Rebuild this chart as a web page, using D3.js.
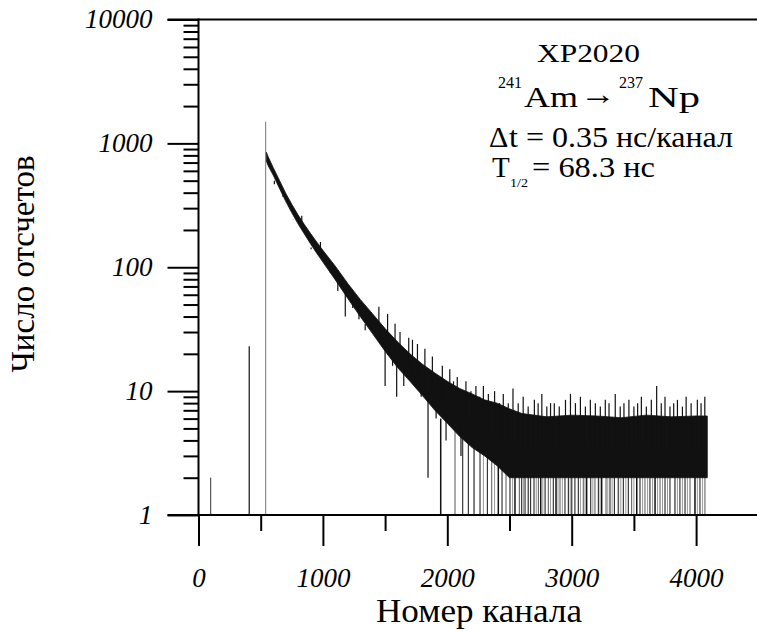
<!DOCTYPE html>
<html>
<head>
<meta charset="utf-8">
<script src="https://cdn.jsdelivr.net/npm/d3@7"></script>
<style>
  body { margin: 0; background: #fff; }
  svg { display: block; }
</style>
</head>
<body>
<div id="chart"></div>
<script>
const SERIF = "'Liberation Serif', 'Times New Roman', Times, serif";

// Decay band: channel, lower and upper edge of the dark band (counts)
const bandCh = [545, 560, 600, 650, 700, 750, 800, 850, 900, 950, 1000, 1100, 1200, 1300, 1400,
  1500, 1600, 1700, 1800, 1900, 2000, 2100, 2200, 2300, 2400, 2500, 2600, 2800, 3000, 3200,
  3400, 3600, 3800, 4000, 4090];
const bandLo = [720, 660, 555, 435, 342, 275, 224, 186, 155, 130, 110, 79, 56, 40, 29,
  21, 15.5, 12, 9.2, 7, 5.5, 4.3, 3.5, 3, 2.5, 2, 2, 2, 2, 2,
  2, 2, 2, 2, 2];
const bandHi = [850, 780, 640, 505, 398, 322, 265, 222, 188, 160, 137, 102, 74, 55, 42,
  32, 25, 20, 16.5, 14, 12, 10.5, 9.5, 8.5, 8, 7.2, 6.6, 6.2, 6.4, 6.3,
  6.1, 6.4, 6.2, 6.3, 6.3];

// single channels standing out of the band (channel, count)
const spikeCh = [610, 680, 760, 830, 905, 980, 1060, 1120, 1180, 1240, 1290, 1340, 1390, 1450,
  1500, 1520, 1560, 1580, 1593, 1620, 1650, 1690, 1720, 1760, 1790, 1820, 1845, 1880, 1910,
  1960, 1990, 2020, 2050, 2080, 2110, 2150, 2190, 2230, 2260, 2290, 2330, 2380, 2420, 2450,
  2490, 2528, 2570, 2610, 2650, 2700, 2730, 2760, 2800, 2830, 2860, 2900, 2950, 2990, 3030,
  3070, 3110, 3150, 3190, 3230, 3270, 3300, 3350, 3390, 3420, 3460, 3500, 3530, 3560, 3600,
  3640, 3683, 3720, 3750, 3790, 3820, 3850, 3890, 3920, 3960, 4010, 4040, 4070];
const spikeVal = [500, 420, 245, 260, 140, 160, 92, 95, 40, 64, 38, 31, 43, 48,
  11, 42, 16, 35, 9, 30, 11, 27, 26, 24, 9, 22, 2, 19, 6,
  16, 4, 15, 12, 13, 3, 12, 10, 11, 9, 11, 9.5, 10, 8, 9.5,
  8, 10.5, 8, 9, 7.5, 8.5, 8, 9.5, 7.5, 8, 8, 7.5, 8.5, 9.5, 8,
  9, 7.5, 8.5, 8, 7.5, 8.5, 8, 9.5, 7.5, 8, 8.5, 7.5, 8, 9, 7.5,
  8.5, 11, 8, 9, 7.5, 8, 8.5, 7.5, 9, 8, 8.5, 8, 9];

// channels where the trace drops to the bottom of the plot
const dropCh = [1947, 2062, 2124, 2169, 2215, 2263, 2322, 2357, 2410, 2440, 2472, 2504, 2544,
  2579, 2598, 2625, 2651, 2670, 2697, 2732, 2751, 2786, 2812, 2852, 2874, 2906, 2946, 2973,
  3000, 3026, 3053, 3093, 3120, 3153, 3187, 3214, 3241, 3276, 3308, 3343, 3375, 3415, 3455,
  3482, 3523, 3549, 3589, 3629, 3670, 3710, 3750, 3790, 3830, 3870, 3911, 3951, 3991, 4031,
  4071];
// fainter grey lines reaching the bottom
const faintCh = [2290, 2380, 2525, 2612, 2715, 2768, 2830, 2890, 2925, 2988, 3070, 3107, 3170,
  3228, 3290, 3325, 3395, 3435, 3500, 3570, 3610, 3650, 3690, 3730, 3770, 3850, 3890, 3930,
  4010, 4052];

// isolated lines before the decay
const peakCh = [98, 408, 540];
const peakVal = [2, 23, 1494];

const yMajor = [1, 10, 100, 1000, 10000];
const xMajor = [0, 1000, 2000, 3000, 4000];
const xMinor = [500, 1500, 2500, 3500];

const W = 757, H = 631;
const plotL = 198.5, plotR = 758.3, plotT = 19.5, plotB = 515;

const svg = d3.select("#chart").append("svg")
  .attr("width", W).attr("height", H);

const x = d3.scaleLinear().domain([0, 4500]).range([plotL, plotR]);
const y = d3.scaleLog().domain([1, 10000]).range([plotB, plotT]);

function bandIndex(c) {
  return Math.min(d3.bisectLeft(bandCh, c), bandCh.length - 1);
}

// faint drops first, so the band sits on top
svg.append("g").selectAll("line")
  .data(faintCh)
  .join("line")
  .attr("x1", d => x(d)).attr("x2", d => x(d))
  .attr("y1", y(1)).attr("y2", y(5))
  .attr("stroke", "#999")
  .attr("stroke-width", 1);

svg.append("g").selectAll("line")
  .data(dropCh)
  .join("line")
  .attr("x1", d => x(d)).attr("x2", d => x(d))
  .attr("y1", y(1)).attr("y2", y(6))
  .attr("stroke", (d, i) => i % 3 === 1 ? "#555" : "#111")
  .attr("stroke-width", (d, i) => i % 4 === 0 ? 1.5 : 1);

// band
const band = bandCh.map((c, i) => ({ c: c, lo: bandLo[i], hi: bandHi[i] }));
svg.append("path")
  .datum(band)
  .attr("fill", "#111")
  .attr("stroke", "#111")
  .attr("stroke-width", 0.8)
  .attr("d", d3.area().x(d => x(d.c)).y0(d => y(d.lo)).y1(d => y(d.hi)));

// spikes, drawn from the middle of the band
svg.append("g").selectAll("line")
  .data(spikeCh.map((c, i) => ({ c: c, v: spikeVal[i] })))
  .join("line")
  .attr("x1", d => x(d.c)).attr("x2", d => x(d.c))
  .attr("y1", d => y(d.v))
  .attr("y2", d => {
    const j = bandIndex(d.c);
    return y(Math.sqrt(bandLo[j] * bandHi[j]));
  })
  .attr("stroke", "#111")
  .attr("stroke-width", 1.2);

// isolated peaks
svg.append("g").selectAll("line")
  .data(peakCh.map((c, i) => ({ c: c, v: peakVal[i] })))
  .join("line")
  .attr("x1", d => x(d.c)).attr("x2", d => x(d.c))
  .attr("y1", y(1)).attr("y2", d => y(d.v))
  .attr("stroke", (d, i) => i === 2 ? "#777" : "#333")
  .attr("stroke-width", (d, i) => i === 1 ? 1.4 : 1);

// y axis: major and minor ticks
const yMinor = [];
[1, 10, 100, 1000].forEach(dec => { for (let k = 2; k <= 9; k++) yMinor.push(dec * k); });

const yMinG = svg.append("g").attr("transform", `translate(${plotL},0)`)
  .call(d3.axisLeft(y).tickValues(yMinor).tickSize(15).tickFormat(""));
yMinG.select(".domain").remove();
const yMajG = svg.append("g").attr("transform", `translate(${plotL},0)`)
  .call(d3.axisLeft(y).tickValues(yMajor).tickSize(31).tickPadding(15).tickFormat(d3.format("d")));
yMajG.select(".domain").remove();
yMajG.selectAll("text")
  .style("font-family", SERIF)
  .style("font-size", "27px")
  .style("font-style", "italic")
  .attr("fill", "#000")
  .attr("dy", "0.3em");

// x axis
const xMinG = svg.append("g").attr("transform", `translate(0,${plotB})`)
  .call(d3.axisBottom(x).tickValues(xMinor).tickSize(16).tickFormat(""));
xMinG.select(".domain").remove();
const xMajG = svg.append("g").attr("transform", `translate(0,${plotB})`)
  .call(d3.axisBottom(x).tickValues(xMajor).tickSize(31).tickPadding(22).tickFormat(d3.format("d")));
xMajG.select(".domain").remove();
xMajG.selectAll("text")
  .style("font-family", SERIF)
  .style("font-size", "27px")
  .style("font-style", "italic")
  .attr("fill", "#000");
svg.selectAll("g.tick line").attr("stroke", "#000").attr("stroke-width", 2);

// frame lines
svg.append("line").attr("x1", plotL).attr("x2", plotL).attr("y1", plotT - 1).attr("y2", plotB + 1)
  .attr("stroke", "#000").attr("stroke-width", 2);
svg.append("line").attr("x1", plotL - 31).attr("x2", W).attr("y1", plotT).attr("y2", plotT)
  .attr("stroke", "#000").attr("stroke-width", 2);
svg.append("line").attr("x1", plotL - 31).attr("x2", W).attr("y1", plotB).attr("y2", plotB)
  .attr("stroke", "#000").attr("stroke-width", 2);

// text helper
function label(txt, px, py, size, len) {
  const t = svg.append("text")
    .attr("x", px).attr("y", py)
    .style("font-family", SERIF)
    .style("font-size", size + "px")
    .attr("fill", "#000")
    .text(txt);
  if (len) t.attr("textLength", len).attr("lengthAdjust", "spacingAndGlyphs");
  return t;
}

// axis titles
label("Номер канала", 376, 622, 33, 206);
svg.append("text")
  .attr("transform", "translate(34,264) rotate(-90)")
  .attr("text-anchor", "middle")
  .style("font-family", SERIF)
  .style("font-size", "33px")
  .text("Число отсчетов");

// annotation
label("XP2020", 537, 62, 25, 103);
label("241", 498, 88, 16);
label("Am", 524, 107, 29, 54);
label("→", 580, 104, 30, 36);
label("237", 619, 88, 16);
label("Np", 648, 107, 30, 52);
label("Δ", 489, 147, 30);
label("t = 0.35 нс/канал", 509, 147, 29, 224);
label("T", 492, 177, 29);
label("1/2", 510, 187, 13, 18);
label("= 68.3 нс", 532, 177, 29, 123);
</script>
</body>
</html>
